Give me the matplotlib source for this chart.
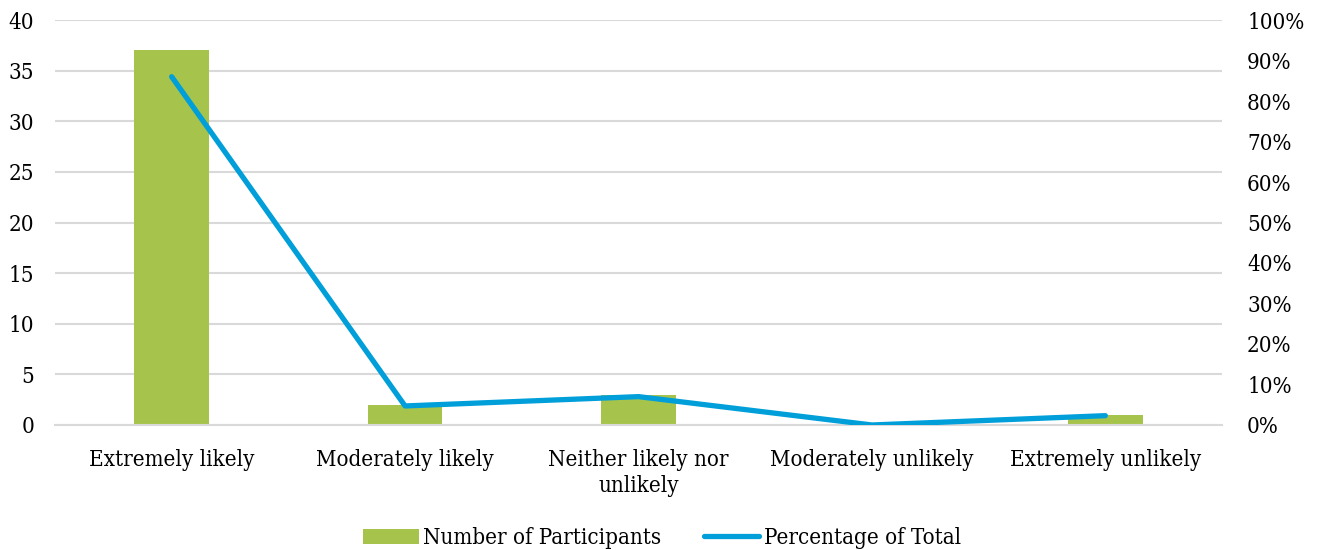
import matplotlib.pyplot as plt
from matplotlib.ticker import FuncFormatter

plt.rcParams['font.family'] = ['DejaVu Serif']
plt.rcParams['font.stretch'] = 'condensed'

categories = ["Extremely likely", "Moderately likely", "Neither likely nor\nunlikely",
              "Moderately unlikely", "Extremely unlikely"]
participants = [37, 2, 3, 0, 1]
pct_of_total = [86.0, 4.7, 7.0, 0.0, 2.3]

bar_color = "#A6C44B"
line_color = "#009FD9"
grid_color = "#D9D9D9"
fs = 16

fig = plt.figure(figsize=(13.24, 5.5), dpi=100)
ax = fig.add_axes([0.0415, 0.2273, 0.8815, 0.7363])
ax2 = ax.twinx()

x = list(range(len(categories)))
bars = ax.bar(x, participants, width=0.32, color=bar_color, zorder=2,
              label="Number of Participants")
line, = ax2.plot(x, pct_of_total, color=line_color, lw=3.8, solid_capstyle="round",
                 zorder=3, label="Percentage of Total")

ax.set_xlim(-0.5, len(categories) - 0.5)
ax.set_ylim(0, 40)
ax.set_yticks(range(0, 41, 5))
ax2.set_ylim(0, 100)
ax2.set_yticks(range(0, 101, 10))
ax2.yaxis.set_major_formatter(FuncFormatter(lambda v, p: f"{v:.0f}%"))

ax.set_xticks(x)
ax.set_xticklabels(categories, fontsize=fs, linespacing=1.25)
ax.tick_params(axis="y", labelsize=fs, length=0, pad=15)
ax.tick_params(axis="x", length=0, pad=17)
ax2.tick_params(axis="y", labelsize=fs, length=0, pad=18)
for t in ax2.get_yticklabels():
    t.set_horizontalalignment("left")

ax.grid(axis="y", color=grid_color, lw=1.5, zorder=0)
ax.set_axisbelow(True)
for a in (ax, ax2):
    for s in a.spines.values():
        s.set_visible(False)
ax.spines["bottom"].set_visible(True)
ax.spines["bottom"].set_color(grid_color)
ax.spines["bottom"].set_linewidth(1.5)

fig.legend([bars, line], ["Number of Participants", "Percentage of Total"],
           loc="lower center", bbox_to_anchor=(0.5, -0.035), ncol=2, frameon=False,
           fontsize=fs, handlelength=2.5, handletextpad=0.2, columnspacing=1.9)

fig.savefig("out.png", dpi=100)
